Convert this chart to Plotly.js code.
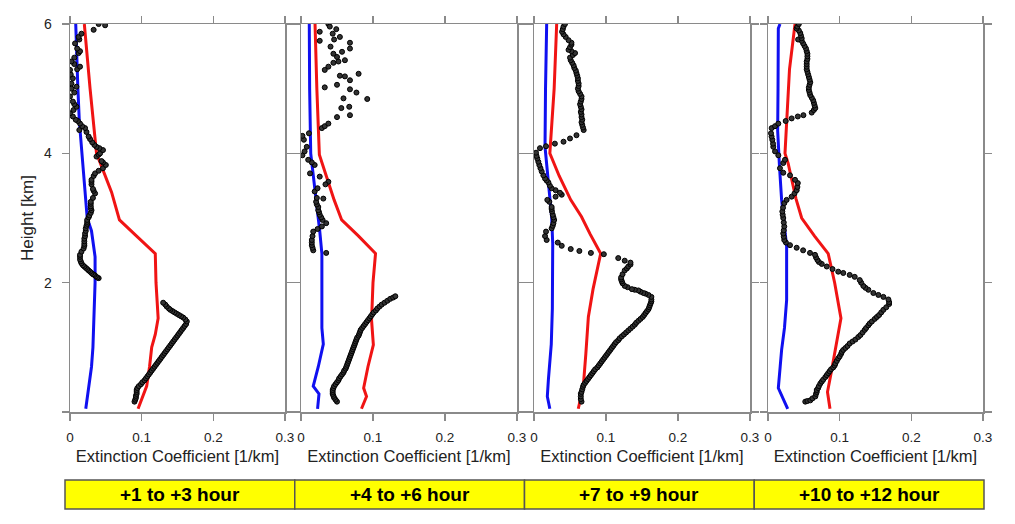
<!DOCTYPE html>
<html>
<head>
<meta charset="utf-8">
<script src="https://cdn.plot.ly/plotly-3.0.1.min.js"></script>
<style>html,body{margin:0;padding:0;background:#fff;}#chart{width:1015px;height:524px;}</style>
</head>
<body>
<div id="chart"></div>
<script>
// ---- data: [extinction (1/km), height (km)] ----
const panelLabels = ['+1 to +3 hour', '+4 to +6 hour', '+7 to +9 hour', '+10 to +12 hour'];
const xTickVals = [0, 0.1, 0.2, 0.3];
const xTickText = ['0', '0.1', '0.2', '0.3'];
const yTickVals = [0, 2, 4, 6];
const yTickText = ['', '2', '4', '6'];

const blue1 = [[0.022,0.05],[0.024,0.2],[0.027,0.4],[0.030,0.7],[0.032,1.0],[0.034,1.5],[0.035,2.0],[0.035,2.4],[0.030,2.8],[0.024,3.0],[0.020,3.5],[0.016,4.0],[0.013,4.5],[0.011,5.0],[0.009,5.5],[0.008,6.0]];
const red1 = [[0.095,0.05],[0.100,0.2],[0.107,0.4],[0.111,0.7],[0.114,1.0],[0.119,1.2],[0.123,1.45],[0.120,2.0],[0.119,2.45],[0.090,2.75],[0.069,2.97],[0.058,3.4],[0.047,3.7],[0.037,4.0],[0.028,5.0],[0.020,6.0]];
const dots1 = [[0.090,0.16],[0.091,0.19],[0.092,0.22],[0.092,0.25],[0.093,0.28],[0.093,0.31],[0.093,0.34],[0.094,0.37],[0.096,0.40],[0.099,0.43],[0.101,0.46],[0.104,0.49],[0.106,0.52],[0.108,0.55],[0.110,0.58],[0.112,0.61],[0.114,0.64],[0.116,0.67],[0.118,0.70],[0.120,0.73],[0.122,0.76],[0.124,0.79],[0.126,0.82],[0.128,0.85],[0.130,0.88],[0.132,0.91],[0.134,0.94],[0.136,0.97],[0.138,1.00],[0.140,1.03],[0.142,1.06],[0.144,1.09],[0.146,1.12],[0.148,1.15],[0.150,1.18],[0.152,1.21],[0.154,1.24],[0.156,1.27],[0.158,1.30],[0.160,1.33],[0.162,1.36],[0.163,1.40],[0.161,1.43],[0.158,1.46],[0.155,1.48],[0.152,1.50],[0.149,1.52],[0.146,1.54],[0.143,1.56],[0.140,1.58],[0.138,1.60],[0.135,1.63],[0.133,1.66],[0.130,1.69],
  [0.040,2.07],[0.038,2.08],[0.036,2.10],[0.034,2.12],[0.032,2.13],[0.030,2.15],[0.028,2.17],[0.026,2.19],[0.024,2.21],[0.022,2.23],[0.020,2.25],[0.018,2.27],[0.016,2.30],[0.015,2.33],[0.014,2.36],[0.014,2.40],[0.014,2.43],[0.016,2.48],[0.019,2.53],[0.020,2.57],[0.020,2.60],[0.020,2.64],[0.020,2.68],[0.021,2.72],[0.021,2.76],[0.022,2.80],[0.022,2.84],[0.023,2.88],[0.024,2.91],[0.024,2.94],[0.024,2.97],[0.026,3.01],[0.027,3.04],[0.029,3.08],[0.030,3.12],[0.029,3.15],[0.029,3.18],[0.029,3.22],[0.029,3.25],[0.032,3.31],[0.035,3.38],[0.033,3.42],[0.032,3.45],[0.030,3.52],[0.030,3.56],[0.030,3.59],[0.033,3.65],[0.035,3.69],[0.040,3.73],[0.046,3.77],[0.050,3.82],[0.046,3.86],[0.044,3.88],[0.037,3.95],[0.040,3.98],[0.042,4.00],[0.046,4.05],[0.041,4.08],[0.037,4.10],[0.034,4.13],[0.031,4.17],[0.028,4.22],[0.026,4.26],[0.023,4.33],[0.021,4.39],[0.013,4.36],[0.017,4.42],[0.014,4.46],[0.011,4.50],[0.008,4.52],[0.004,4.57],[0.000,4.62],[0.005,4.67],[0.009,4.72],[0.006,4.76],[0.004,4.80],[0.000,4.88],[0.006,4.94],[0.002,5.00],[0.002,5.08],[0.009,5.03],[0.004,5.16],[0.001,5.22],[0.000,5.29],[0.010,5.30],[0.014,5.34],[0.006,5.38],[0.002,5.42],[0.006,5.48],[0.012,5.55],[0.014,5.58],[0.010,5.62],[0.007,5.70],[0.013,5.76],[0.012,5.80],[0.016,5.85],[0.033,5.91],[0.040,6.00],[0.049,5.98]];

const blue2 = [[0.023,0.05],[0.024,0.2],[0.025,0.28],[0.017,0.4],[0.024,0.7],[0.031,1.05],[0.029,1.3],[0.029,2.0],[0.029,2.45],[0.026,2.8],[0.024,3.0],[0.018,3.5],[0.0135,4.0],[0.012,5.0],[0.0115,6.0]];
const red2 = [[0.084,0.05],[0.091,0.24],[0.087,0.37],[0.093,0.7],[0.1005,1.04],[0.098,1.42],[0.100,2.0],[0.1035,2.45],[0.080,2.72],[0.0565,2.97],[0.046,3.28],[0.035,3.65],[0.0255,3.98],[0.022,5.0],[0.0195,6.0]];
const dots2 = [[0.050,0.16],[0.048,0.19],[0.046,0.22],[0.045,0.25],[0.044,0.28],[0.044,0.31],[0.044,0.34],[0.045,0.37],[0.046,0.40],[0.048,0.43],[0.050,0.46],[0.052,0.49],[0.053,0.52],[0.055,0.55],[0.057,0.58],[0.059,0.61],[0.060,0.64],[0.062,0.67],[0.063,0.70],[0.064,0.73],[0.065,0.76],[0.066,0.79],[0.067,0.82],[0.068,0.85],[0.069,0.88],[0.070,0.91],[0.071,0.94],[0.072,0.97],[0.073,1.00],[0.074,1.03],[0.075,1.06],[0.076,1.09],[0.077,1.12],[0.078,1.15],[0.080,1.18],[0.081,1.21],[0.082,1.24],[0.083,1.27],[0.085,1.30],[0.087,1.33],[0.089,1.36],[0.091,1.39],[0.093,1.42],[0.095,1.45],[0.097,1.48],[0.099,1.51],[0.101,1.54],[0.104,1.57],[0.106,1.60],[0.109,1.63],[0.112,1.66],[0.116,1.69],[0.120,1.72],[0.124,1.75],[0.128,1.77],[0.131,1.79],
  [0.035,2.46],[0.017,2.50],[0.016,2.54],[0.015,2.58],[0.015,2.62],[0.015,2.66],[0.016,2.72],[0.017,2.79],[0.023,2.83],[0.029,2.87],[0.035,2.92],[0.030,2.97],[0.028,3.01],[0.026,3.05],[0.025,3.09],[0.024,3.12],[0.024,3.17],[0.022,3.21],[0.021,3.25],[0.022,3.31],[0.031,3.30],[0.019,3.41],[0.023,3.46],[0.038,3.56],[0.034,3.52],[0.026,3.64],[0.0125,3.69],[0.019,3.82],[0.015,3.86],[0.010,3.90],[0.002,3.97],[0.005,4.03],[0.008,4.10],[0.004,4.21],[0.002,4.27],[0.011,4.31],[0.029,4.39],[0.033,4.42],[0.038,4.46],[0.050,4.56],[0.056,4.70],[0.068,4.59],[0.067,4.72],[0.059,4.85],[0.092,4.84],[0.077,4.94],[0.068,4.99],[0.033,5.02],[0.050,5.06],[0.080,5.23],[0.068,5.13],[0.061,5.19],[0.054,5.20],[0.033,5.29],[0.038,5.34],[0.045,5.40],[0.052,5.42],[0.061,5.44],[0.050,5.49],[0.057,5.57],[0.045,5.54],[0.041,5.65],[0.068,5.62],[0.068,5.71],[0.054,5.80],[0.046,5.76],[0.026,5.74],[0.026,5.88],[0.044,5.85],[0.049,5.92],[0.038,6.00],[0.040,5.96]];

const blue3 = [[0.022,0.05],[0.0185,0.24],[0.020,0.5],[0.024,1.05],[0.0255,1.6],[0.026,2.0],[0.026,2.6],[0.0245,3.02],[0.0176,3.85],[0.0153,4.1],[0.016,5.0],[0.0176,6.0]];
const red3 = [[0.0615,0.05],[0.066,0.25],[0.0685,0.4],[0.072,0.9],[0.0755,1.47],[0.082,1.9],[0.0926,2.45],[0.078,2.75],[0.066,3.02],[0.051,3.28],[0.035,3.65],[0.022,4.0],[0.025,4.5],[0.028,5.0],[0.0315,6.0]];
const dots3 = [[0.066,0.16],[0.065,0.20],[0.065,0.24],[0.065,0.28],[0.066,0.31],[0.067,0.35],[0.068,0.39],[0.069,0.42],[0.071,0.45],[0.073,0.48],[0.075,0.51],[0.077,0.54],[0.079,0.57],[0.081,0.60],[0.083,0.63],[0.085,0.66],[0.088,0.69],[0.090,0.72],[0.092,0.75],[0.094,0.78],[0.096,0.81],[0.098,0.84],[0.100,0.87],[0.102,0.90],[0.104,0.93],[0.106,0.96],[0.108,0.99],[0.110,1.02],[0.112,1.05],[0.114,1.08],[0.117,1.11],[0.119,1.14],[0.122,1.17],[0.125,1.20],[0.128,1.23],[0.131,1.26],[0.134,1.29],[0.137,1.32],[0.140,1.35],[0.142,1.38],[0.145,1.41],[0.148,1.44],[0.151,1.47],[0.153,1.50],[0.155,1.53],[0.157,1.56],[0.159,1.59],[0.160,1.62],[0.161,1.65],[0.162,1.68],[0.163,1.71],[0.163,1.74],[0.163,1.78],[0.159,1.81],[0.155,1.83],[0.152,1.84],[0.148,1.86],[0.145,1.88],[0.140,1.89],[0.136,1.90],[0.130,1.93],[0.126,1.95],[0.123,1.99],[0.122,2.02],[0.121,2.05],[0.121,2.08],[0.123,2.13],[0.126,2.19],[0.129,2.22],[0.131,2.25],[0.134,2.28],[0.134,2.31],[0.126,2.34],[0.117,2.38],[0.097,2.44],[0.079,2.46],[0.063,2.49],[0.051,2.52],[0.0385,2.57],[0.033,2.62],[0.0176,2.66],[0.0153,2.72],[0.0167,2.79],[0.0245,2.84],[0.026,2.88],[0.027,2.92],[0.028,2.97],[0.027,3.01],[0.026,3.05],[0.025,3.10],[0.0245,3.14],[0.0245,3.17],[0.0213,3.25],[0.0185,3.28],[0.030,3.33],[0.0385,3.36],[0.036,3.39],[0.030,3.43],[0.0245,3.46],[0.022,3.50],[0.020,3.55],[0.0175,3.58],[0.0153,3.61],[0.013,3.66],[0.0107,3.72],[0.009,3.77],[0.0074,3.82],[0.006,3.87],[0.0046,3.92],[0.0035,3.96],[0.0028,4.01],[0.0083,4.08],[0.0167,4.11],[0.029,4.15],[0.041,4.18],[0.050,4.23],[0.059,4.28],[0.069,4.36],[0.068,4.40],[0.067,4.44],[0.066,4.48],[0.067,4.52],[0.066,4.56],[0.066,4.60],[0.065,4.64],[0.066,4.68],[0.065,4.72],[0.064,4.76],[0.065,4.80],[0.066,4.84],[0.066,4.88],[0.064,4.92],[0.062,4.96],[0.061,5.00],[0.062,5.04],[0.062,5.08],[0.061,5.12],[0.061,5.16],[0.060,5.20],[0.059,5.24],[0.058,5.28],[0.056,5.32],[0.055,5.36],[0.053,5.40],[0.051,5.44],[0.050,5.48],[0.054,5.52],[0.057,5.55],[0.052,5.58],[0.048,5.60],[0.050,5.64],[0.052,5.68],[0.052,5.71],[0.048,5.75],[0.044,5.80],[0.041,5.84],[0.039,5.88],[0.040,5.92],[0.041,5.96],[0.043,6.00]];

const blue4 = [[0.0275,0.05],[0.0144,0.37],[0.017,0.7],[0.019,0.96],[0.023,1.3],[0.026,1.73],[0.026,2.56],[0.022,3.0],[0.019,3.28],[0.016,3.8],[0.0135,4.35],[0.014,5.0],[0.0144,5.93],[0.0167,6.0]];
const red4 = [[0.0865,0.05],[0.083,0.31],[0.088,0.6],[0.0934,0.91],[0.1018,1.45],[0.093,2.0],[0.084,2.45],[0.065,2.72],[0.047,3.0],[0.039,3.3],[0.028,3.85],[0.0237,4.0],[0.027,4.8],[0.030,5.3],[0.0377,6.0]];
const dots4 = [[0.052,0.16],[0.055,0.17],[0.059,0.18],[0.062,0.21],[0.066,0.24],[0.067,0.28],[0.068,0.31],[0.068,0.34],[0.070,0.37],[0.071,0.40],[0.073,0.44],[0.075,0.47],[0.077,0.50],[0.080,0.54],[0.082,0.57],[0.084,0.60],[0.086,0.63],[0.088,0.66],[0.091,0.69],[0.093,0.72],[0.094,0.75],[0.096,0.79],[0.098,0.83],[0.100,0.86],[0.102,0.90],[0.103,0.93],[0.105,0.96],[0.108,0.99],[0.111,1.02],[0.114,1.06],[0.118,1.09],[0.122,1.12],[0.126,1.16],[0.129,1.19],[0.132,1.23],[0.135,1.27],[0.137,1.30],[0.140,1.34],[0.142,1.37],[0.145,1.40],[0.149,1.44],[0.152,1.47],[0.155,1.50],[0.158,1.54],[0.161,1.58],[0.165,1.62],[0.169,1.67],[0.169,1.70],[0.168,1.74],[0.161,1.78],[0.154,1.81],[0.147,1.84],[0.140,1.89],[0.136,1.92],[0.133,1.95],[0.130,2.00],[0.128,2.04],[0.121,2.09],[0.114,2.12],[0.105,2.15],[0.098,2.17],[0.090,2.21],[0.082,2.25],[0.075,2.29],[0.071,2.32],[0.069,2.35],[0.067,2.39],[0.0656,2.43],[0.0586,2.46],[0.049,2.50],[0.040,2.54],[0.0307,2.58],[0.025,2.62],[0.0227,2.66],[0.022,2.71],[0.0213,2.76],[0.022,2.81],[0.0227,2.87],[0.022,2.93],[0.0213,3.00],[0.0205,3.05],[0.020,3.10],[0.021,3.16],[0.0227,3.23],[0.026,3.28],[0.033,3.33],[0.037,3.38],[0.040,3.43],[0.041,3.48],[0.0416,3.54],[0.0377,3.59],[0.0307,3.66],[0.0213,3.70],[0.0167,3.77],[0.0213,3.85],[0.0237,3.90],[0.0144,3.97],[0.0098,4.03],[0.0074,4.10],[0.007,4.15],[0.006,4.21],[0.005,4.26],[0.0042,4.31],[0.0051,4.39],[0.0098,4.42],[0.0144,4.46],[0.0247,4.50],[0.033,4.54],[0.0416,4.57],[0.0494,4.59],[0.061,4.63],[0.064,4.67],[0.066,4.70],[0.065,4.74],[0.064,4.78],[0.063,4.82],[0.061,4.86],[0.059,4.90],[0.058,4.94],[0.057,4.98],[0.057,5.02],[0.058,5.06],[0.059,5.10],[0.058,5.14],[0.057,5.18],[0.056,5.22],[0.055,5.26],[0.054,5.30],[0.054,5.34],[0.054,5.38],[0.054,5.42],[0.055,5.46],[0.055,5.50],[0.055,5.54],[0.054,5.58],[0.053,5.62],[0.051,5.66],[0.049,5.70],[0.047,5.74],[0.042,5.76],[0.047,5.78],[0.046,5.82],[0.045,5.86],[0.043,5.90],[0.040,5.93],[0.041,5.96],[0.043,6.00]];

const blues = [blue1, blue2, blue3, blue4];
const reds = [red1, red2, red3, red4];
const dots = [dots1, dots2, dots3, dots4];

// ---- layout geometry (pixels in a 1015x524 page) ----
const W = 1015, H = 524;
const panelPx = [[70, 285], [301, 517], [534, 750], [768, 983]];
const plotTop = 24, plotBottom = 412;
const boxLeft = 65, boxRight = 984, boxTop = 480, boxBottom = 509;
const FONT = 'Liberation Sans, Arial, Helvetica, sans-serif';

const traces = [];
const layout = {
  width: W, height: H,
  margin: {l: 0, r: 0, t: 0, b: 0},
  paper_bgcolor: '#ffffff', plot_bgcolor: '#ffffff',
  showlegend: false,
  font: {family: FONT, color: '#222'},
  shapes: [], annotations: []
};

const ydom = [1 - plotBottom / H, 1 - plotTop / H];
for (let i = 0; i < 4; i++) {
  const sfx = i === 0 ? '' : String(i + 1);
  const xa = 'x' + sfx, ya = 'y' + sfx;
  const mk = (arr, k) => arr.map(p => p[k]);
  traces.push({x: mk(blues[i], 0), y: mk(blues[i], 1), xaxis: xa, yaxis: ya, type: 'scatter', mode: 'lines',
    line: {color: '#1010f0', width: 3}, hoverinfo: 'x+y'});
  traces.push({x: mk(reds[i], 0), y: mk(reds[i], 1), xaxis: xa, yaxis: ya, type: 'scatter', mode: 'lines',
    line: {color: '#f01414', width: 3}, hoverinfo: 'x+y'});
  traces.push({x: mk(dots[i], 0), y: mk(dots[i], 1), xaxis: xa, yaxis: ya, type: 'scatter', mode: 'markers',
    marker: {color: '#333', size: 5, line: {color: '#000', width: 1}}, hoverinfo: 'x+y'});

  const common = {showline: true, linecolor: '#8a8a8a', linewidth: 1.5, mirror: 'allticks',
    ticks: 'outside', ticklen: 7, tickwidth: 1.2, tickcolor: '#8a8a8a',
    showgrid: false, zeroline: false, fixedrange: true};
  layout['xaxis' + sfx] = Object.assign({}, common, {
    domain: [panelPx[i][0] / W, panelPx[i][1] / W], anchor: ya, range: [0, 0.3],
    tickvals: xTickVals, ticktext: xTickText, tickfont: {size: 13.5, family: FONT, color: '#222'},
    ticklabelstandoff: 5,
    title: {text: 'Extinction Coefficient [1/km]', font: {size: 16.5, family: FONT, color: '#222'}, standoff: 6}
  });
  layout['yaxis' + sfx] = Object.assign({}, common, {
    domain: ydom, anchor: xa, range: [0, 6],
    tickvals: yTickVals, ticktext: yTickText, showticklabels: i === 0,
    tickfont: {size: 14, family: FONT, color: '#222'}, ticklabelstandoff: 7,
    title: i === 0 ? {text: 'Height [km]', font: {size: 17, family: FONT, color: '#222'}, standoff: 6} : {text: ''}
  });

  // yellow label boxes below panels
  const bw = (boxRight - boxLeft) / 4;
  const x0 = boxLeft + i * bw, x1 = x0 + bw;
  layout.shapes.push({type: 'rect', xref: 'paper', yref: 'paper',
    x0: x0 / W, x1: x1 / W, y0: 1 - boxBottom / H, y1: 1 - boxTop / H,
    fillcolor: '#ffff00', line: {color: '#555', width: 1.5}, layer: 'above'});
  layout.annotations.push({xref: 'paper', yref: 'paper', x: (x0 + x1) / 2 / W, y: 1 - (boxTop + boxBottom) / 2 / H,
    text: '<b>' + panelLabels[i] + '</b>', showarrow: false, xanchor: 'center', yanchor: 'middle',
    font: {size: 19, family: FONT, color: '#000'}});
}

Plotly.newPlot('chart', traces, layout, {displayModeBar: false, staticPlot: true});
</script>
</body>
</html>
